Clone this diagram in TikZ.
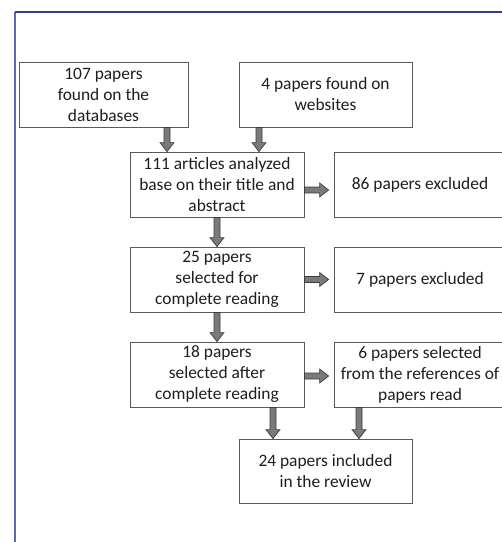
\documentclass[tikz,border=0pt]{standalone}
\usepackage{fontspec}
\setmainfont{Carlito}
\usetikzlibrary{calc}
\definecolor{framebluetop}{HTML}{2E3D8C}
\definecolor{frameblueleft}{HTML}{5A68B0}
\definecolor{boxline}{HTML}{5A5A5A}
\definecolor{txt}{HTML}{1E1E1E}
\definecolor{arrowfill}{HTML}{7A7A7A}
\definecolor{arrowline}{HTML}{3C3C3C}
\tikzset{
  flowbox/.style={draw=boxline, line width=0.8pt, fill=white, inner sep=0pt,
    minimum height=65pt, align=center, text=txt,
    font=\fontsize{17.4}{21}\selectfont},
  vblock/.style={draw=arrowline, fill=arrowfill, line width=0.7pt, line join=miter,
    to path={let \p1=(\tikztostart), \p2=(\tikztotarget) in
      (\x1-3pt,\y1) -- (\x1-3pt,\y2+9pt) -- (\x1-7pt,\y2+9pt) -- (\x1,\y2)
      -- (\x1+7pt,\y2+9pt) -- (\x1+3pt,\y2+9pt) -- (\x1+3pt,\y1) -- cycle}},
  hblock/.style={draw=arrowline, fill=arrowfill, line width=0.7pt, line join=miter,
    to path={let \p1=(\tikztostart), \p2=(\tikztotarget) in
      (\x1,\y1-3pt) -- (\x2-9pt,\y1-3pt) -- (\x2-9pt,\y1-7pt) -- (\x2,\y1)
      -- (\x2-9pt,\y1+7pt) -- (\x2-9pt,\y1+3pt) -- (\x1,\y1+3pt) -- cycle}}
}
\begin{document}
\begin{tikzpicture}[x=1pt,y=-1pt]
\useasboundingbox (0,0) rectangle (502,542);
\clip (0,0) rectangle (502,542);
\fill[white] (0,0) rectangle (502,542);
% frame
\draw[frameblueleft, line width=1.4pt] (15,12) -- (15,545);
\draw[framebluetop, line width=1.2pt] (15,12) -- (505,12);
% boxes
\node[flowbox, minimum width=169pt] (b1) at (103.5,94.5) {107 papers\\found on the\\databases};
\node[flowbox, minimum width=173pt] (b2) at (325.5,94.5) {4 papers found on\\websites};
\node[flowbox, minimum width=174pt] (b3) at (217,184.5) {111 articles analyzed\\base on their title and\\abstract};
\node[flowbox, minimum width=172pt] (b4) at (420,184.5) {86 papers excluded};
\node[flowbox, minimum width=174pt] (b5) at (217,279.5) {25 papers\\selected for\\complete reading};
\node[flowbox, minimum width=172pt] (b6) at (420,279.5) {7 papers excluded};
\node[flowbox, minimum width=174pt] (b7) at (217,374.5) {18 papers\\selected after\\complete reading};
\node[flowbox, minimum width=172pt] (b8) at (420,374.5) {6 papers selected\\from the references of\\papers read};
\node[flowbox, minimum width=173pt, minimum height=64pt] (b9) at (325.5,471) {24 papers included\\in the review};
% arrows
\draw[vblock] ([xshift=63.5pt]b1.south) to ([xshift=-50pt]b3.north);
\draw[vblock] ([xshift=-66.5pt]b2.south) to ([xshift=42pt]b3.north);
\draw[vblock] (b3.south) to (b5.north);
\draw[vblock] (b5.south) to (b7.north);
\draw[vblock] ([xshift=56pt]b7.south) to ([xshift=-52.5pt]b9.north);
\draw[vblock] ([xshift=-61pt]b8.south) to ([xshift=33.5pt]b9.north);
\draw[hblock] ([yshift=-5.5pt]b3.east) to ([xshift=-5pt,yshift=-5.5pt]b4.west);
\draw[hblock] (b5.east) to ([xshift=-5pt]b6.west);
\draw[hblock] ([yshift=-1.5pt]b7.east) to ([xshift=-5pt,yshift=-1.5pt]b8.west);
\end{tikzpicture}
\end{document}
